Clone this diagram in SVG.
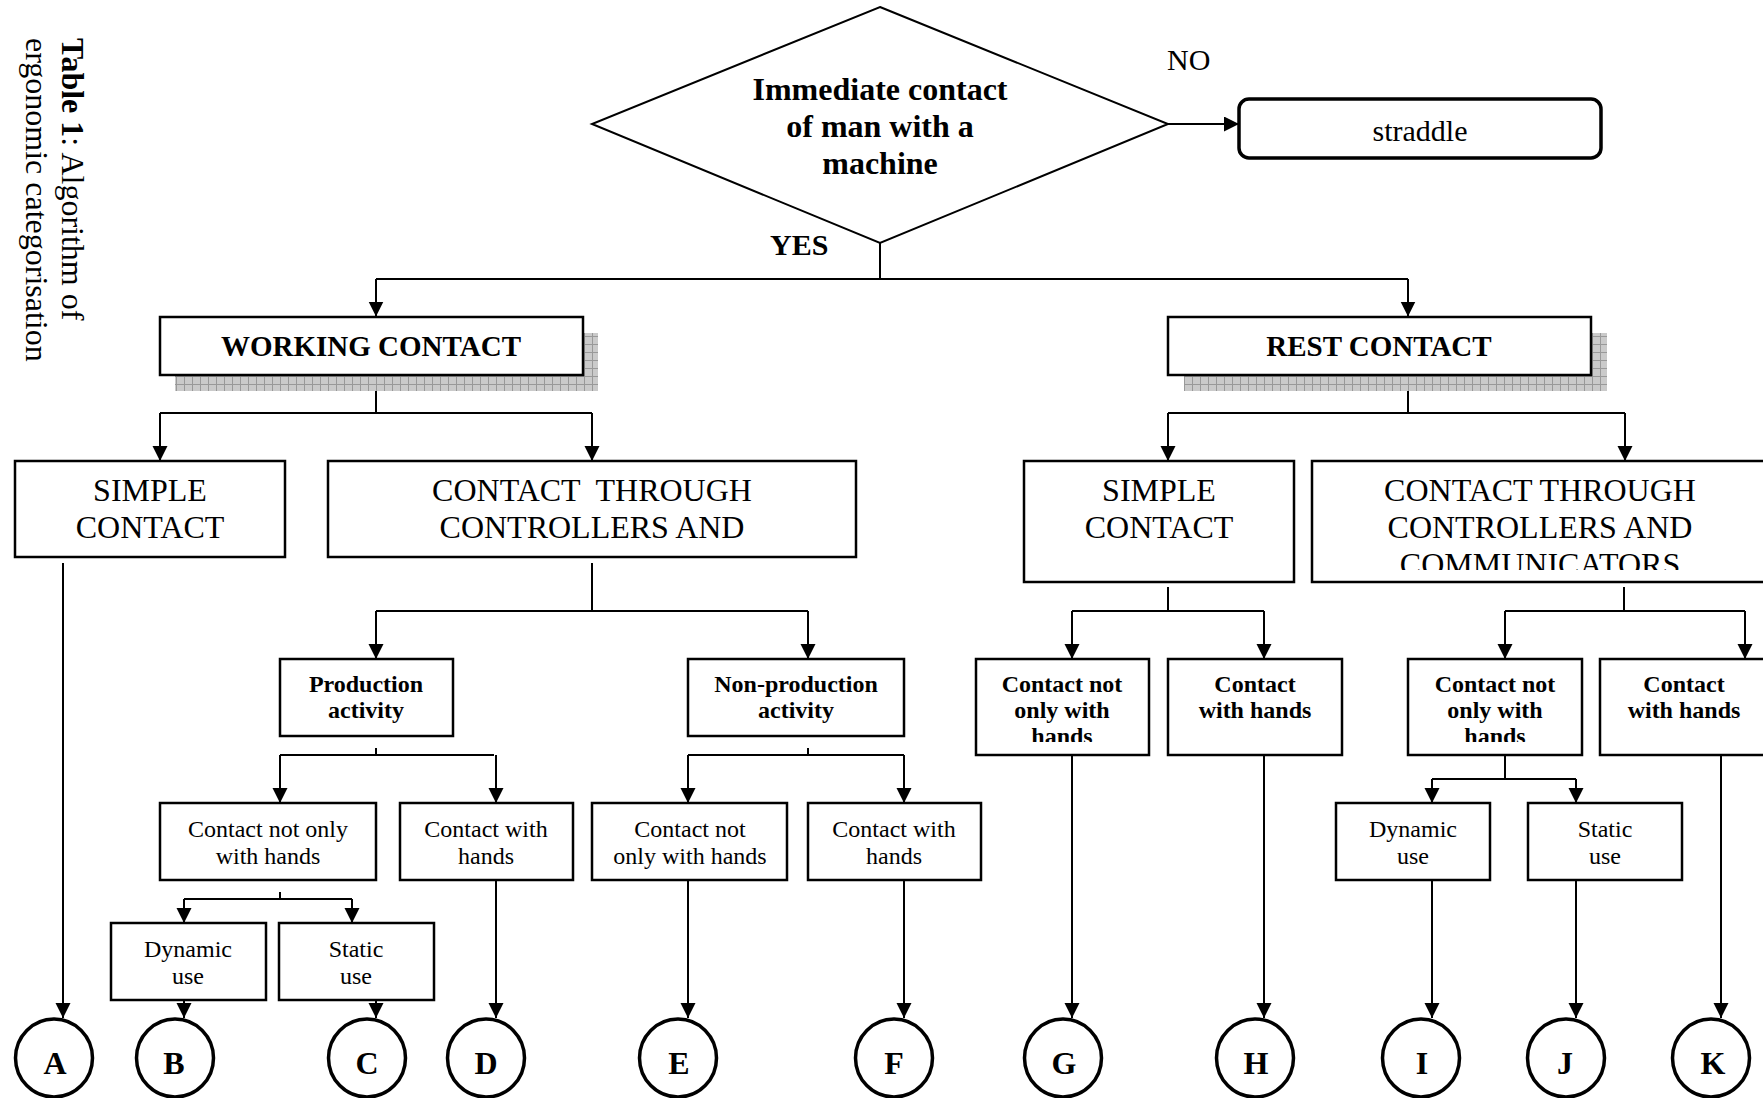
<svg xmlns="http://www.w3.org/2000/svg" width="1763" height="1098" viewBox="0 0 1763 1098">
<style>
  .t { font-family: "Liberation Serif", "Times New Roman", serif; fill: #000; }
  .b { font-weight: bold; }
  .mid { text-anchor: middle; }
  .f32 { font-size: 32px; }
  .f30 { font-size: 30px; }
  .f29 { font-size: 29px; }
  .f24 { font-size: 24px; }
  .box { fill: #fff; stroke: #000; stroke-width: 2.5; }
  .shadow { fill: url(#grid); }
  .circ { fill: #fff; stroke: #000; stroke-width: 3.5; }
  .conn path { fill: none; stroke: #000; stroke-width: 2; }
  .conn path.arr { marker-end: url(#ah); }
</style>
<defs>
  <marker id="ah" markerUnits="userSpaceOnUse" markerWidth="16" markerHeight="16" refX="15" refY="7.5" orient="auto">
    <path d="M0,0 L15,7.5 L0,15 Z" fill="#000"/>
  </marker>
  <pattern id="grid" patternUnits="userSpaceOnUse" width="8" height="8">
    <rect width="8" height="8" fill="#cacaca"/>
    <path d="M0,0.5 H8 M0.5,0 V8" stroke="#999" stroke-width="1"/>
  </pattern>
  <clipPath id="clipRC"><rect x="1312" y="461" width="460" height="109"/></clipPath>
  <clipPath id="clipG"><rect x="976" y="659" width="174" height="83"/></clipPath>
  <clipPath id="clipIJ"><rect x="1408" y="659" width="174" height="83"/></clipPath>
</defs>
<rect width="1763" height="1098" fill="#fff"/>

<g id="caption">
  <text class="t f32" transform="translate(62,38) rotate(90)"><tspan class="b">Table 1</tspan>: Algorithm of</text>
  <text class="t f32" transform="translate(26,38) rotate(90)">ergonomic categorisation</text>
</g>

<g class="conn" id="connectors">
  <path d="M880 243 V279"/>
  <path d="M376 279 H1408"/>
  <path class="arr" d="M376 279 V316.5"/>
  <path class="arr" d="M1408 279 V316.5"/>
  <path class="arr" d="M1168 124 H1239"/>
  <path d="M376 375 V413"/>
  <path d="M160 413 H592"/>
  <path class="arr" d="M160 413 V461"/>
  <path class="arr" d="M592 413 V461"/>
  <path d="M1408 375 V413"/>
  <path d="M1168 413 H1625"/>
  <path class="arr" d="M1168 413 V461"/>
  <path class="arr" d="M1625 413 V461"/>
  <path class="arr" d="M63 563 V1018"/>
  <path d="M592 563 V611"/>
  <path d="M376 611 H808"/>
  <path class="arr" d="M376 611 V659"/>
  <path class="arr" d="M808 611 V659"/>
  <path d="M376 748 V755"/>
  <path d="M280 755 H494"/>
  <path class="arr" d="M280 755 V803"/>
  <path class="arr" d="M496 755 V803"/>
  <path d="M808 748 V755"/>
  <path d="M688 755 H904"/>
  <path class="arr" d="M688 755 V803"/>
  <path class="arr" d="M904 755 V803"/>
  <path d="M280 892 V899"/>
  <path d="M184 899 H352"/>
  <path class="arr" d="M184 899 V923"/>
  <path class="arr" d="M352 899 V923"/>
  <path class="arr" d="M184 995 V1018"/>
  <path class="arr" d="M376 995 V1018"/>
  <path class="arr" d="M496 880 V1018"/>
  <path class="arr" d="M688 880 V1018"/>
  <path class="arr" d="M904 880 V1018"/>
  <path d="M1168 587 V611"/>
  <path d="M1072 611 H1264"/>
  <path class="arr" d="M1072 611 V659"/>
  <path class="arr" d="M1264 611 V659"/>
  <path d="M1624 587 V611"/>
  <path d="M1505 611 H1745"/>
  <path class="arr" d="M1505 611 V659"/>
  <path class="arr" d="M1745 611 V659"/>
  <path class="arr" d="M1072 755 V1018"/>
  <path class="arr" d="M1264 755 V1018"/>
  <path class="arr" d="M1721 755 V1018"/>
  <path d="M1505 755 V779"/>
  <path d="M1432 779 H1576"/>
  <path class="arr" d="M1432 779 V803"/>
  <path class="arr" d="M1576 779 V803"/>
  <path class="arr" d="M1432 880 V1018"/>
  <path class="arr" d="M1576 875 V1018"/>
</g>

<g id="decision">
  <path d="M880 7 L1168 124 L880 243 L592 124 Z" fill="#fff" stroke="#000" stroke-width="2"/>
  <text class="t b f32 mid" x="880" y="100">Immediate contact</text>
  <text class="t b f32 mid" x="880" y="137">of man with a</text>
  <text class="t b f32 mid" x="880" y="174">machine</text>
</g>
<g id="label-no"><text class="t f30" x="1167" y="70">NO</text></g>
<g id="label-yes"><text class="t b f30" x="770" y="255">YES</text></g>

<g id="straddle">
  <rect x="1239" y="99" width="362" height="59" rx="10" fill="#fff" stroke="#000" stroke-width="3.5"/>
  <text class="t f30 mid" x="1420" y="141">straddle</text>
</g>

<g id="working-contact">
  <rect class="shadow" x="175" y="333" width="423" height="58"/>
  <rect class="box" x="160" y="317" width="423" height="58"/>
  <text class="t b f29 mid" x="371" y="356">WORKING CONTACT</text>
</g>
<g id="rest-contact">
  <rect class="shadow" x="1184" y="333" width="423" height="58"/>
  <rect class="box" x="1168" y="317" width="423" height="58"/>
  <text class="t b f29 mid" x="1379" y="356">REST CONTACT</text>
</g>

<g id="simple-contact-w">
  <rect class="box" x="15" y="461" width="270" height="96"/>
  <text class="t f32 mid" x="150" y="501">SIMPLE</text>
  <text class="t f32 mid" x="150" y="538">CONTACT</text>
</g>
<g id="controllers-w">
  <rect class="box" x="328" y="461" width="528" height="96"/>
  <text class="t f32 mid" x="592" y="501" xml:space="preserve">CONTACT  THROUGH</text>
  <text class="t f32 mid" x="592" y="538">CONTROLLERS AND</text>
</g>
<g id="simple-contact-r">
  <rect class="box" x="1024" y="461" width="270" height="121"/>
  <text class="t f32 mid" x="1159" y="501">SIMPLE</text>
  <text class="t f32 mid" x="1159" y="538">CONTACT</text>
</g>
<g id="controllers-r">
  <rect class="box" x="1312" y="461" width="460" height="121"/>
  <g clip-path="url(#clipRC)">
    <text class="t f32 mid" x="1540" y="501">CONTACT THROUGH</text>
    <text class="t f32 mid" x="1540" y="538">CONTROLLERS AND</text>
    <text class="t f32 mid" x="1540" y="575">COMMUNICATORS</text>
  </g>
</g>

<g id="production">
  <rect class="box" x="280" y="659" width="173" height="77"/>
  <text class="t b f24 mid" x="366" y="692">Production</text>
  <text class="t b f24 mid" x="366" y="718">activity</text>
</g>
<g id="non-production">
  <rect class="box" x="688" y="659" width="216" height="77"/>
  <text class="t b f24 mid" x="796" y="692">Non-production</text>
  <text class="t b f24 mid" x="796" y="718">activity</text>
</g>
<g id="rest-simple-not-only">
  <rect class="box" x="976" y="659" width="173" height="96"/>
  <g clip-path="url(#clipG)">
    <text class="t b f24 mid" x="1062" y="692">Contact not</text>
    <text class="t b f24 mid" x="1062" y="718">only with</text>
    <text class="t b f24 mid" x="1062" y="744">hands</text>
  </g>
</g>
<g id="rest-simple-hands">
  <rect class="box" x="1168" y="659" width="174" height="96"/>
  <text class="t b f24 mid" x="1255" y="692">Contact</text>
  <text class="t b f24 mid" x="1255" y="718">with hands</text>
</g>
<g id="rest-ctrl-not-only">
  <rect class="box" x="1408" y="659" width="174" height="96"/>
  <g clip-path="url(#clipIJ)">
    <text class="t b f24 mid" x="1495" y="692">Contact not</text>
    <text class="t b f24 mid" x="1495" y="718">only with</text>
    <text class="t b f24 mid" x="1495" y="744">hands</text>
  </g>
</g>
<g id="rest-ctrl-hands">
  <rect class="box" x="1600" y="659" width="170" height="96"/>
  <text class="t b f24 mid" x="1684" y="692">Contact</text>
  <text class="t b f24 mid" x="1684" y="718">with hands</text>
</g>

<g id="prod-not-only">
  <rect class="box" x="160" y="803" width="216" height="77"/>
  <text class="t f24 mid" x="268" y="837">Contact not only</text>
  <text class="t f24 mid" x="268" y="864">with hands</text>
</g>
<g id="prod-hands">
  <rect class="box" x="400" y="803" width="173" height="77"/>
  <text class="t f24 mid" x="486" y="837">Contact with</text>
  <text class="t f24 mid" x="486" y="864">hands</text>
</g>
<g id="nonprod-not-only">
  <rect class="box" x="592" y="803" width="195" height="77"/>
  <text class="t f24 mid" x="690" y="837">Contact not</text>
  <text class="t f24 mid" x="690" y="864">only with hands</text>
</g>
<g id="nonprod-hands">
  <rect class="box" x="808" y="803" width="173" height="77"/>
  <text class="t f24 mid" x="894" y="837">Contact with</text>
  <text class="t f24 mid" x="894" y="864">hands</text>
</g>
<g id="rest-dynamic">
  <rect class="box" x="1336" y="803" width="154" height="77"/>
  <text class="t f24 mid" x="1413" y="837">Dynamic</text>
  <text class="t f24 mid" x="1413" y="864">use</text>
</g>
<g id="rest-static">
  <rect class="box" x="1528" y="803" width="154" height="77"/>
  <text class="t f24 mid" x="1605" y="837">Static</text>
  <text class="t f24 mid" x="1605" y="864">use</text>
</g>
<g id="prod-dynamic">
  <rect class="box" x="111" y="923" width="155" height="77"/>
  <text class="t f24 mid" x="188" y="957">Dynamic</text>
  <text class="t f24 mid" x="188" y="984">use</text>
</g>
<g id="prod-static">
  <rect class="box" x="279" y="923" width="155" height="77"/>
  <text class="t f24 mid" x="356" y="957">Static</text>
  <text class="t f24 mid" x="356" y="984">use</text>
</g>

<g id="end-A"><ellipse class="circ" cx="54" cy="1058" rx="38.5" ry="39"/><text class="t b f32 mid" x="55" y="1074">A</text></g>
<g id="end-B"><ellipse class="circ" cx="175" cy="1058" rx="38.5" ry="39"/><text class="t b f32 mid" x="174" y="1074">B</text></g>
<g id="end-C"><ellipse class="circ" cx="367" cy="1058" rx="38.5" ry="39"/><text class="t b f32 mid" x="367" y="1074">C</text></g>
<g id="end-D"><ellipse class="circ" cx="486" cy="1058" rx="38.5" ry="39"/><text class="t b f32 mid" x="486" y="1074">D</text></g>
<g id="end-E"><ellipse class="circ" cx="678" cy="1058" rx="38.5" ry="39"/><text class="t b f32 mid" x="679" y="1074">E</text></g>
<g id="end-F"><ellipse class="circ" cx="894" cy="1058" rx="38.5" ry="39"/><text class="t b f32 mid" x="894" y="1074">F</text></g>
<g id="end-G"><ellipse class="circ" cx="1063" cy="1058" rx="38.5" ry="39"/><text class="t b f32 mid" x="1064" y="1074">G</text></g>
<g id="end-H"><ellipse class="circ" cx="1255" cy="1058" rx="38.5" ry="39"/><text class="t b f32 mid" x="1256" y="1074">H</text></g>
<g id="end-I"><ellipse class="circ" cx="1421" cy="1058" rx="38.5" ry="39"/><text class="t b f32 mid" x="1422" y="1074">I</text></g>
<g id="end-J"><ellipse class="circ" cx="1566" cy="1058" rx="38.5" ry="39"/><text class="t b f32 mid" x="1565" y="1074">J</text></g>
<g id="end-K"><ellipse class="circ" cx="1711" cy="1058" rx="38.5" ry="39"/><text class="t b f32 mid" x="1713" y="1074">K</text></g>
</svg>
